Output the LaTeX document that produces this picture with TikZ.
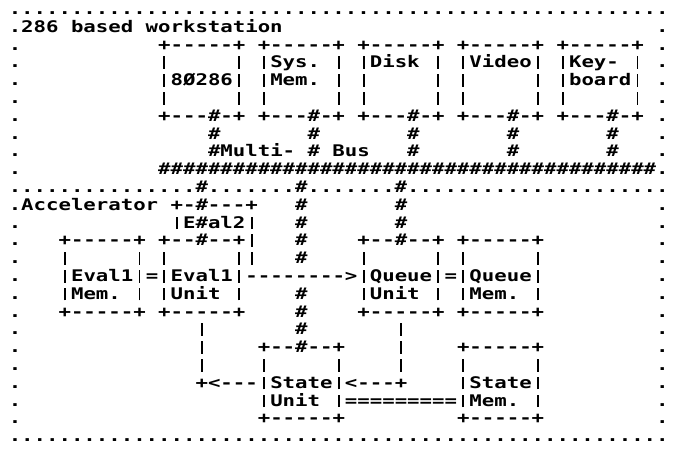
\documentclass[tikz,border=0pt]{standalone}
\usepackage{fontspec}
\setmonofont{DejaVu Sans Mono}[FakeStretch=1.2925]
\usepackage{tikz}
\usetikzlibrary{positioning}

\newcommand\pad[1]{\hskip#1\fontdimen2\font\relax}
\newcommand\rep[2]{\foreach\k in {1,...,#1}{#2}}
% printer bar: shorter than the font's own
\newcommand\shortbar{\makebox[\fontdimen2\font][c]{\rule[-1pt]{1.9pt}{12.5pt}}}
{\catcode`\|=\active \gdef|{\shortbar}}

\begin{document}
\catcode`\|=\active
\begin{tikzpicture}[
    x=1pt, y=1pt,
    prow/.style={
        anchor=base west,
        inner sep=0pt,
        outer sep=0pt,
        font=\ttfamily\bfseries\fontsize{16}{18}\selectfont\frenchspacing
    },
    under/.style={below=17.8pt of #1.base west, anchor=base west}
]
\useasboundingbox (0,0) rectangle (673,-451);

% workstation side
\node[prow] (r0) at (8.8,-14.5) {\rep{53}{.}};
\node[prow, under=r0] (r1) {.286 based workstation\pad{30}.};
\node[prow, under=r1] (r2) {.\pad{11}+-----+ +-----+ +-----+ +-----+ +-----+\pad1.};
\node[prow, under=r2] (r3) {.\pad{11}|\pad5| |Sys. | |Disk | |Video| |Key- |\pad1.};
\node[prow, under=r3] (r4) {.\pad{11}|8Ø286| |Mem. | |\pad5| |\pad5| |board|\pad1.};
\node[prow, under=r4] (r5) {.\pad{11}|\pad5| |\pad5| |\pad5| |\pad5| |\pad5|\pad1.};
\node[prow, under=r5] (r6) {.\pad{11}+---\#-+ +---\#-+ +---\#-+ +---\#-+ +---\#-+\pad1.};
\node[prow, under=r6] (r7) {.\pad{15}\#\pad7\#\pad7\#\pad7\#\pad7\#\pad3.};
\node[prow, under=r7] (r8) {.\pad{15}\#Multi- \# Bus\pad3\#\pad7\#\pad7\#\pad3.};
\node[prow, under=r8] (r9) {.\pad{11}\rep{40}{\#}.};
\node[prow, under=r9] (r10) {\rep{15}{.}\#\rep{7}{.}\#\rep{7}{.}\#\rep{21}{.}};

% accelerator side
\node[prow, under=r10] (r11) {.Accelerator +-\#---+\pad3\#\pad7\#\pad{20}.};
\node[prow, under=r11] (r12) {.\pad{12}|E\#al2|\pad3\#\pad7\#\pad{20}.};
\node[prow, under=r12] (r13) {.\pad3+-----+ +--\#--+|\pad3\#\pad4+--\#--+ +-----+\pad9.};
\node[prow, under=r13] (r14) {.\pad3|\pad5| |\pad5||\pad3\#\pad4|\pad5| |\pad5|\pad9.};
\node[prow, under=r14] (r15) {.\pad3|Eval1|=|Eval1|-------->|Queue|=|Queue|\pad9.};
\node[prow, under=r15] (r16) {.\pad3|Mem. | |Unit |\pad4\#\pad4|Unit | |Mem. |\pad9.};
\node[prow, under=r16] (r17) {.\pad3+-----+ +-----+\pad4\#\pad4+-----+ +-----+\pad9.};
\node[prow, under=r17] (r18) {.\pad{14}|\pad7\#\pad7|\pad{20}.};
\node[prow, under=r18] (r19) {.\pad{14}|\pad4+--\#--+\pad4|\pad4+-----+\pad9.};
\node[prow, under=r19] (r20) {.\pad{14}|\pad4|\pad5|\pad4|\pad4|\pad5|\pad9.};
\node[prow, under=r20] (r21) {.\pad{14}+<---|State|<---+\pad4|State|\pad9.};
\node[prow, under=r21] (r22) {.\pad{19}|Unit |=========|Mem. |\pad9.};
\node[prow, under=r22] (r23) {.\pad{19}+-----+\pad9+-----+\pad9.};
\node[prow, under=r23] (r24) {\rep{53}{.}};

\end{tikzpicture}
\end{document}
